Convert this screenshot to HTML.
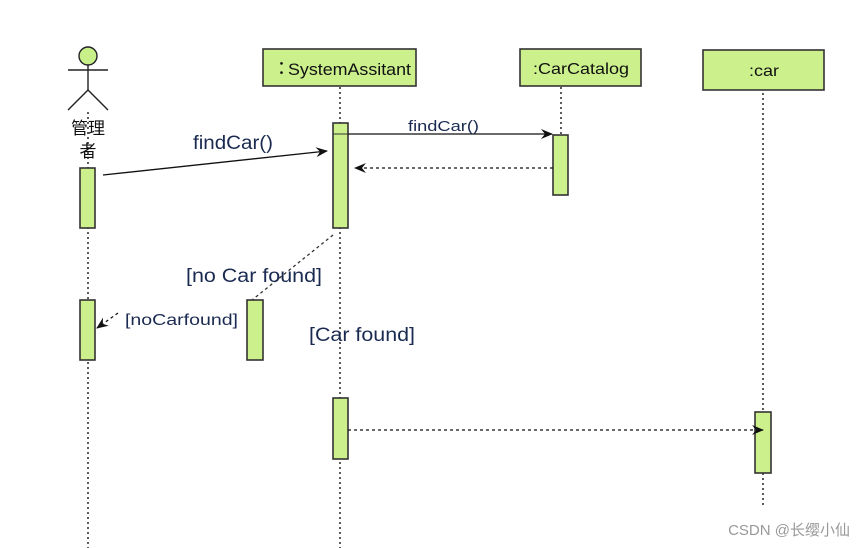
<!DOCTYPE html>
<html><head><meta charset="utf-8"><style>
body{margin:0;background:#fff;width:865px;height:548px;overflow:hidden}
svg{display:block}
text{font-family:"Liberation Sans","Noto Sans CJK SC",sans-serif}
</style></head><body>
<svg width="865" height="548" viewBox="0 0 865 548" xmlns="http://www.w3.org/2000/svg">
<defs>
<marker id="a" markerWidth="12" markerHeight="10" refX="11" refY="5" orient="auto" markerUnits="userSpaceOnUse">
<path d="M0,0 L12,5 L0,10 L4,5 Z" fill="#111"/></marker>
</defs>
<g stroke="#333" stroke-width="1.6" stroke-dasharray="2,3" fill="none">
<line x1="88" y1="112" x2="88" y2="548"/>
<line x1="340" y1="87" x2="340" y2="548"/>
<line x1="561" y1="87" x2="561" y2="135"/>
<line x1="763" y1="93" x2="763" y2="505"/>
</g>
<g stroke="#222" stroke-width="1.4" fill="none">
<circle cx="88" cy="56" r="9" fill="#c8f08a"/>
<line x1="88" y1="65" x2="88" y2="90"/>
<line x1="68" y1="70" x2="108" y2="70"/>
<line x1="88" y1="90" x2="68" y2="110"/>
<line x1="88" y1="90" x2="108" y2="110"/>
</g>
<text x="88" y="134" font-size="17" text-anchor="middle" fill="#111">管理</text>
<text x="88" y="157" font-size="17" text-anchor="middle" fill="#111">者</text>
<g fill="#ccf08c" stroke="#333" stroke-width="1.6">
<rect x="263" y="49" width="153" height="37"/>
<rect x="520" y="49" width="121" height="37"/>
<rect x="703" y="50" width="121" height="40"/>
<rect x="80" y="168" width="15" height="60"/>
<rect x="80" y="300" width="15" height="60"/>
<rect x="247" y="300" width="16" height="60"/>
<rect x="333" y="123" width="15" height="105"/>
<rect x="333" y="398" width="15" height="61"/>
<rect x="553" y="135" width="15" height="60"/>
<rect x="755" y="412" width="16" height="61"/>
</g>
<line x1="333" y1="134" x2="348" y2="134" stroke="#333" stroke-width="1"/>
<text x="272" y="75" font-size="19" fill="#111">∶</text>
<text x="288" y="75" font-size="17" fill="#111" textLength="123" lengthAdjust="spacingAndGlyphs">SystemAssitant</text>
<text x="533" y="74" font-size="16" fill="#111" textLength="96" lengthAdjust="spacingAndGlyphs">:CarCatalog</text>
<text x="749" y="76" font-size="16" fill="#111" textLength="30" lengthAdjust="spacingAndGlyphs">:car</text>
<line x1="103" y1="175" x2="327" y2="151" stroke="#111" stroke-width="1.3" marker-end="url(#a)"/>
<text x="193" y="149" font-size="19" fill="#1a2a50" textLength="80" lengthAdjust="spacingAndGlyphs">findCar()</text>
<line x1="348" y1="134" x2="552" y2="134" stroke="#111" stroke-width="1.3" marker-end="url(#a)"/>
<text x="408" y="131" font-size="15" fill="#1a2a50" textLength="71" lengthAdjust="spacingAndGlyphs">findCar()</text>
<line x1="553" y1="168" x2="355" y2="168" stroke="#111" stroke-width="1.3" stroke-dasharray="3,3" marker-end="url(#a)"/>
<line x1="333" y1="235" x2="252" y2="300" stroke="#333" stroke-width="1.3" stroke-dasharray="3,3"/>
<text x="186" y="282" font-size="19" fill="#1a2a50" textLength="136" lengthAdjust="spacingAndGlyphs">[no Car found]</text>
<line x1="118" y1="313" x2="97" y2="328" stroke="#111" stroke-width="1.3" stroke-dasharray="3,3" marker-end="url(#a)"/>
<text x="125" y="325" font-size="16" fill="#1a2a50" textLength="113" lengthAdjust="spacingAndGlyphs">[noCarfound]</text>
<text x="309" y="341" font-size="19" fill="#1a2a50" textLength="106" lengthAdjust="spacingAndGlyphs">[Car found]</text>
<line x1="348" y1="430" x2="763" y2="430" stroke="#111" stroke-width="1.3" stroke-dasharray="3,3" marker-end="url(#a)"/>
<text x="850" y="535" font-size="15" text-anchor="end" fill="#999">CSDN @长缨小仙</text>
</svg>
</body></html>
